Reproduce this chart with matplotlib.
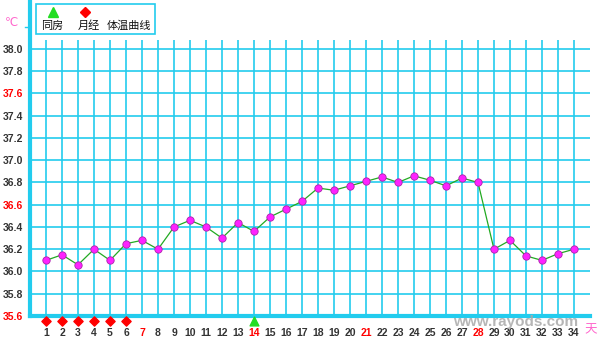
import matplotlib
matplotlib.use("Agg")
import matplotlib.pyplot as plt
from matplotlib.patches import Rectangle

days = list(range(1, 35))
temps = [36.10, 36.15, 36.06, 36.20, 36.10, 36.25, 36.28, 36.20, 36.40, 36.46,
         36.40, 36.30, 36.44, 36.36, 36.49, 36.56, 36.63, 36.75, 36.73, 36.77,
         36.81, 36.85, 36.80, 36.86, 36.82, 36.77, 36.84, 36.80, 36.20, 36.28,
         36.14, 36.10, 36.16, 36.20]
period_days = [1, 2, 3, 4, 5, 6]
sex_days = [14]
yticks = [35.6, 35.8, 36.0, 36.2, 36.4, 36.6, 36.8, 37.0, 37.2, 37.4, 37.6, 37.8, 38.0]
red_yticks = [35.6, 36.6, 37.6]
red_xticks = [7, 14, 21, 28]

plt.rcParams['font.family'] = ['Liberation Sans', 'Noto Sans CJK SC', 'DejaVu Sans']

cyan = '#22CCEE'
fig = plt.figure(figsize=(6.0, 3.41), dpi=100)
ax = fig.add_axes([30/600, 25/341, 560/600, 316/341])
ax.set_xlim(0, 35)
ax.set_ylim(35.6, 38.44)

for s in ['top', 'right']:
    ax.spines[s].set_visible(False)
ax.spines['left'].set_color(cyan)
ax.spines['left'].set_linewidth(3)
ax.spines['bottom'].set_color(cyan)
ax.spines['bottom'].set_linewidth(3)

ax.hlines(yticks[1:], 0, 35, colors=cyan, linewidth=1.2, zorder=1)
ax.vlines(days, 35.6, 38.08, colors=cyan, linewidth=1.2, zorder=1)

ax.plot(days, temps, color='#22AA22', linewidth=0.9, zorder=3)
ax.scatter(days, temps, s=28, color='#FF22FF', edgecolors='#AA22AA', linewidths=0.6, zorder=4)

ax.scatter(period_days, [35.555]*len(period_days), marker='D', s=22, color='#FF0000',
           clip_on=False, zorder=5)
ax.scatter(sex_days, [35.555]*len(sex_days), marker='^', s=40, color='#22DD22',
           clip_on=False, zorder=5)

ax.set_yticks(yticks)
ax.set_yticklabels([f"{v:.1f}" for v in yticks])
ax.set_xticks(days)
ax.set_xticklabels([str(d) for d in days])
ax.tick_params(axis='both', length=0, labelsize=7.5)
ax.tick_params(axis='y', pad=5)
ax.tick_params(axis='x', pad=9)
for lab, v in zip(ax.get_yticklabels(), yticks):
    lab.set_fontweight('bold')
    lab.set_color('#FF0000' if v in red_yticks else '#333333')
for lab, d in zip(ax.get_xticklabels(), days):
    lab.set_fontweight('bold')
    lab.set_color('#FF0000' if d in red_xticks else '#333333')

# degree label and unit
fig.text(11/600, 1 - 23/341, '℃', color='#FF66CC', fontsize=8.5, ha='center', va='center',
         family=['DejaVu Sans'])
fig.add_artist(plt.Line2D([25/600, 30/600], [1 - 27/341, 1 - 27/341], color=cyan, linewidth=1))
fig.text(591/600, 1 - 330/341, '天', color='#FF66CC', fontsize=9, ha='center', va='center',
         family=['Noto Sans CJK SC'])

# watermark
fig.text(516/600, 1 - 322/341, 'www.rayods.com', color='#AAAAAA', fontsize=11,
         fontweight='bold', ha='center', va='center', alpha=0.85)

# legend box
fig.add_artist(Rectangle((36/600, 1 - 34/341), 119/600, 30/341, transform=fig.transFigure,
                         facecolor='white', edgecolor=cyan, linewidth=1.2))
fig.add_artist(plt.Line2D([53/600], [1 - 12/341], marker='^', markersize=7, color='#22DD22',
                          linestyle='none'))
fig.add_artist(plt.Line2D([85/600], [1 - 12/341], marker='D', markersize=5, color='#FF0000',
                          linestyle='none'))
for x, t in [(52, '同房'), (89, '月经'), (129, '体温曲线')]:
    fig.text(x/600, 1 - 26/341, t, fontsize=8, ha='center', va='center', color='#111111',
             family=['Noto Sans CJK SC'])

fig.savefig('out.png', dpi=100)
